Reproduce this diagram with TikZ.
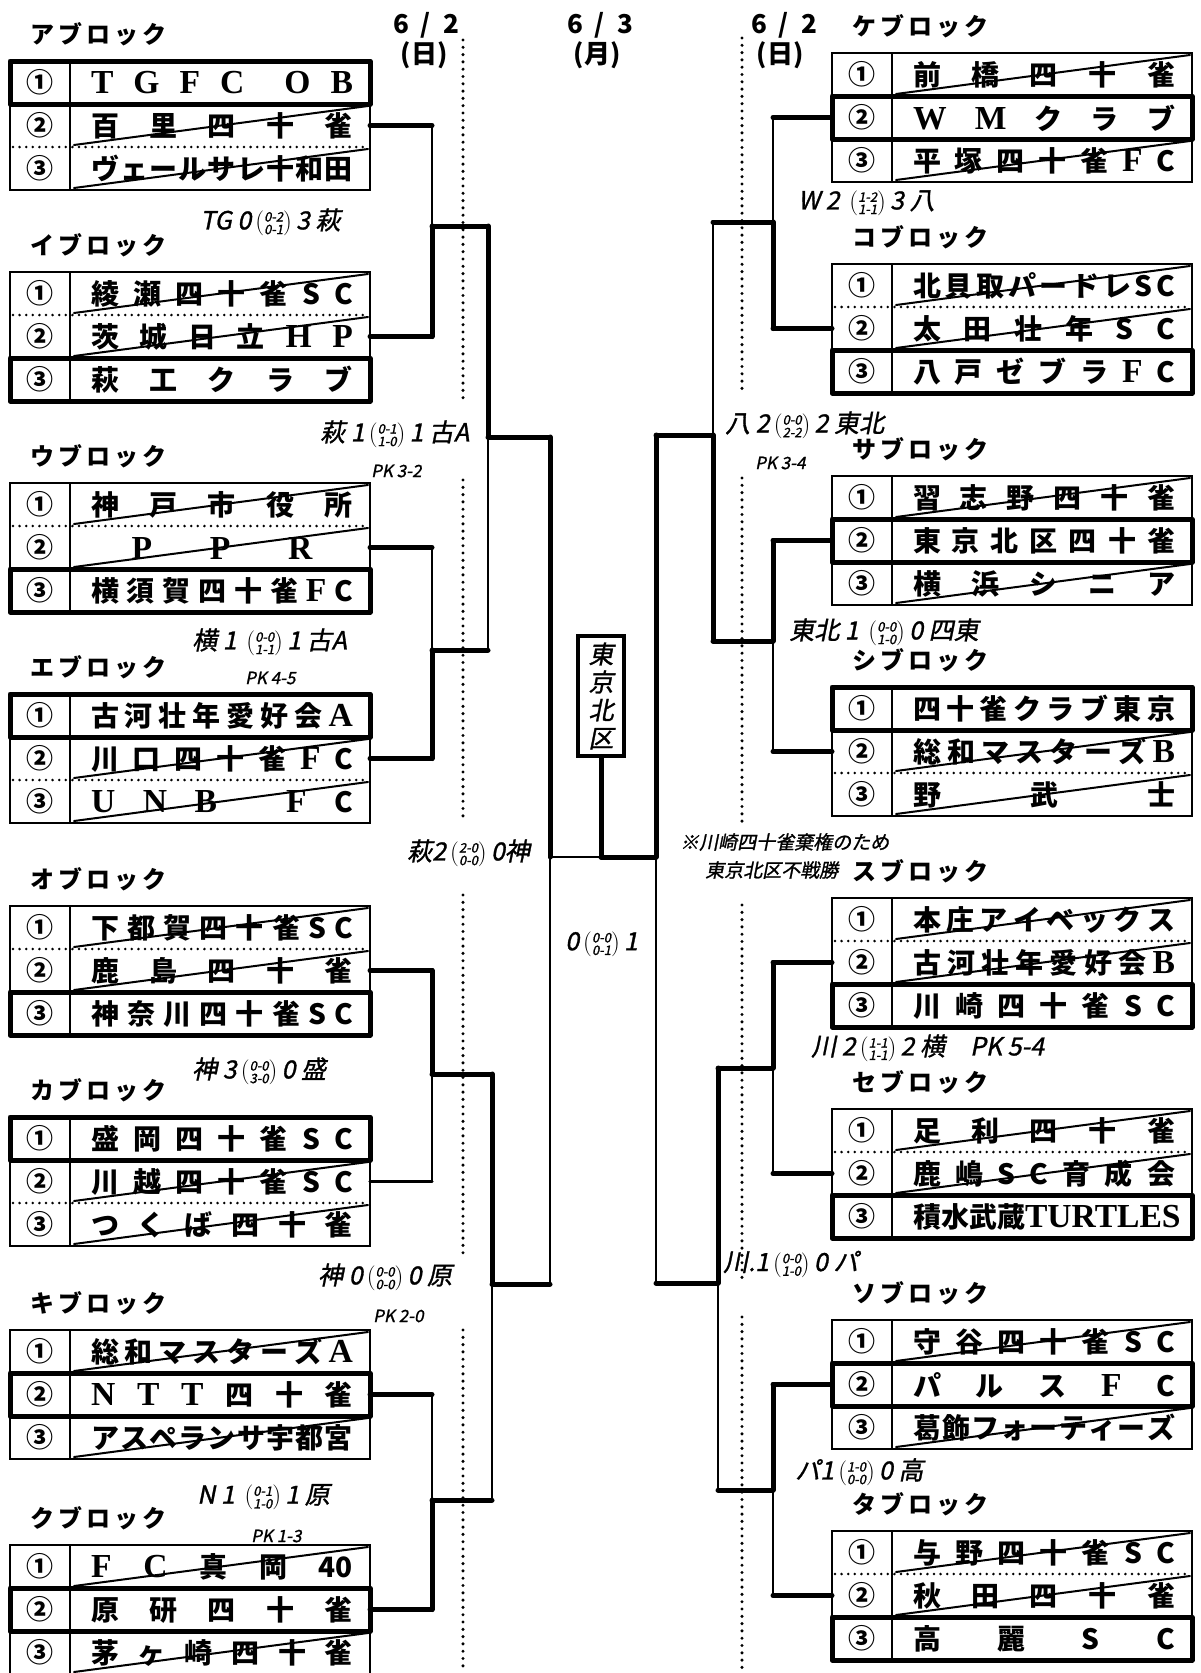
\documentclass[tikz,border=0pt]{standalone}
\usepackage{fontspec}
\setmainfont{Noto Sans CJK JP}
\newfontfamily\jp{Noto Sans CJK JP}
\newfontfamily\se{Liberation Serif}[Scale=1.2]
\newfontfamily\hand{Noto Sans CJK JP}[FakeSlant=0.2,FakeBold=1.2]
\newcommand\spr[2]{\makebox[#1][s]{\spaceskip=0pt plus 1fil\xspaceskip=0pt plus 1fil\relax #2}}
\newcommand\nm[1]{\spr{262pt}{#1}}
\newcommand\ser[1]{{\se\bfseries #1}}
\newcommand\scr[2]{\,\ensuremath{\left(\vcenter{\hbox{\fontsize{13}{13}\selectfont\shortstack{#1\\#2}}}\right)}\,}
% block: x, y, winner, row1, row2, row3, label, id
\newcommand\tblk[8]{%
\begin{scope}[shift={(#1,#2)}]
\draw[bthin] (0,0) rectangle (360,129) (60,0) -- (60,129);
\draw[dotsep] (3,43) -- (358,43) (3,86) -- (358,86);
\ifnum#3=1\relax\else\draw[strike] (64,41) -- (358,2);\fi
\ifnum#3=2\relax\else\draw[strike] (64,84) -- (358,45);\fi
\ifnum#3=3\relax\else\draw[strike] (64,127) -- (358,88);\fi
\draw[bthick] (0,{(#3-1)*43}) rectangle (360,{#3*43});
\node[num] (#8-n1) at (30,21.5) {①};
\node[num] (#8-n2) at (30,64.5) {②};
\node[num] (#8-n3) at (30,107.5) {③};
\node[nmst] (#8-1) at (212,22) {\nm{#4}};
\node[nmst] (#8-2) at (212,65) {\nm{#5}};
\node[nmst] (#8-3) at (212,108) {\nm{#6}};
\node[lab] (#8-lab) at (20,-27) {\spr{136pt}{#7}};
\coordinate (#8-L) at (0,64.5);
\coordinate (#8-R) at (360,64.5);
\end{scope}}
\begin{document}
\begin{tikzpicture}[x=1pt,y=-1pt,
  wl/.style={line width=5pt,line cap=round},
  ll/.style={line width=2.2pt,line cap=round},
  ml/.style={line width=3.4pt,line cap=round},
  bthin/.style={line width=2.2pt},
  bthick/.style={line width=5pt,line join=round},
  dotsep/.style={line width=2.8pt,dash pattern=on 0pt off 6.6pt,line cap=round},
  strike/.style={line width=2pt,line cap=round},
  datedot/.style={line width=3.4pt,dash pattern=on 0pt off 7.3pt,line cap=round},
  num/.style={font=\jp\bfseries\fontsize{27}{27}\selectfont,inner sep=0pt},
  nmst/.style={font=\jp\bfseries\fontsize{28}{28}\selectfont,inner sep=0pt},
  lab/.style={font=\jp\bfseries\fontsize{24}{24}\selectfont,inner sep=0pt,anchor=west},
  datest/.style={font=\jp\bfseries\fontsize{26}{26}\selectfont,inner sep=0pt},
  hw/.style={font=\hand\fontsize{25}{25}\selectfont,inner sep=0pt,anchor=west},
  hws/.style={font=\hand\fontsize{17}{17}\selectfont,inner sep=0pt,anchor=west},
  hwn/.style={font=\hand\fontsize{19}{19}\selectfont,inner sep=0pt,anchor=west}]
\useasboundingbox (0,0) rectangle (1200,1673);
\fill[white] (0,0) rectangle (1200,1673);
\clip (0,0) rectangle (1200,1673);

% dates
\node[datest] (d1) at (426,25) {\spr{66pt}{6 / 2}};
\node[datest] (d1b) at (424,55) {(日)};
\node[datest] (d2) at (600,25) {\spr{66pt}{6 / 3}};
\node[datest] (d2b) at (597,55) {(月)};
\node[datest] (d3) at (784,25) {\spr{66pt}{6 / 2}};
\node[datest] (d3b) at (780,55) {(日)};

% dotted day lines
\draw[datedot] (463,40) -- (463,398);
\draw[datedot] (463,480) -- (463,820);
\draw[datedot] (463,895) -- (463,1257);
\draw[datedot] (463,1330) -- (463,1673);
\draw[datedot] (742,38) -- (742,393);
\draw[datedot] (742,478) -- (742,822);
\draw[datedot] (742,905) -- (742,1280);
\draw[datedot] (742,1317) -- (742,1673);

% left blocks
\tblk{10}{61}{1}{\ser{T G F C \hfil O B}}{百 里 四 十 雀}{ヴ ェ ー ル サ レ 十 和 田}{ア ブ ロ ッ ク}{A}
\tblk{10}{272}{3}{綾 瀬 四 十 雀 S C}{茨 城 日 立 \ser{H P}}{萩 工 ク ラ ブ}{イ ブ ロ ッ ク}{I}
\tblk{10}{483}{3}{神 戸 市 役 所}{\hskip 0pt plus 0.7fil\relax\ser{P P R}\hskip 0pt plus 0.7fil\relax}{横 須 賀 四 十 雀 \ser{F} C}{ウ ブ ロ ッ ク}{U}
\tblk{10}{694}{1}{古 河 壮 年 愛 好 会 \ser{A}}{川 口 四 十 雀 \ser{F} C}{\ser{U N B \hskip 0pt plus 1.5fil\relax F} C}{エ ブ ロ ッ ク}{E}
\tblk{10}{906}{3}{下 都 賀 四 十 雀 S C}{鹿 島 四 十 雀}{神 奈 川 四 十 雀 S C}{オ ブ ロ ッ ク}{O}
\tblk{10}{1117}{1}{盛 岡 四 十 雀 S C}{川 越 四 十 雀 S C}{つ く ば 四 十 雀}{カ ブ ロ ッ ク}{KA}
\tblk{10}{1330}{2}{総 和 マ ス タ ー ズ \ser{A}}{\ser{N T T} 四 十 雀}{ア ス ペ ラ ン サ 宇 都 宮}{キ ブ ロ ッ ク}{KI}
\tblk{10}{1545}{2}{\ser{F C} 真 岡 40}{原 研 四 十 雀}{茅 ヶ 崎 四 十 雀}{ク ブ ロ ッ ク}{KU}

% right blocks
\tblk{832}{53}{2}{前 橋 四 十 雀}{\ser{W M} ク ラ ブ}{平 塚 四 十 雀 \ser{F} C}{ケ ブ ロ ッ ク}{KE}
\tblk{832}{264}{3}{北 貝 取 パ ー ド レ S C}{太 田 壮 年 S C}{八 戸 ゼ ブ ラ \ser{F} C}{コ ブ ロ ッ ク}{KO}
\tblk{832}{476}{2}{習 志 野 四 十 雀}{東 京 北 区 四 十 雀}{横 浜 シ ニ ア}{サ ブ ロ ッ ク}{SA}
\tblk{832}{687}{1}{四 十 雀 ク ラ ブ 東 京}{総 和 マ ス タ ー ズ \ser{B}}{野 武 士}{シ ブ ロ ッ ク}{SI}
\tblk{832}{898}{3}{本 庄 ア イ ベ ッ ク ス}{古 河 壮 年 愛 好 会 \ser{B}}{川 崎 四 十 雀 S C}{ス ブ ロ ッ ク}{SU}
\tblk{832}{1109}{3}{足 利 四 十 雀}{鹿 嶋 S C 育 成 会}{積 水 武 蔵 \ser{TURTLES}}{セ ブ ロ ッ ク}{SE}
\tblk{832}{1320}{2}{守 谷 四 十 雀 S C}{パ ル ス \ser{F} C}{葛 飾 フ ォ ー テ ィ ー ズ}{ソ ブ ロ ッ ク}{SO}
\tblk{832}{1531}{3}{与 野 四 十 雀 S C}{秋 田 四 十 雀}{高 麗 S C}{タ ブ ロ ッ ク}{TA}

% champion box
\node[draw,line width=4pt,minimum width=46pt,minimum height=120pt,inner sep=0pt,
  font=\hand\fontsize{25}{28}\selectfont,align=center] (champ) at (601,696) {東\\京\\北\\区};

% bracket coordinates
\coordinate (a1) at (432,125.5);
\coordinate (i1) at (432,336.5);
\coordinate (J1) at (432,226);
\coordinate (u1) at (432,547.5);
\coordinate (e1) at (432,758.5);
\coordinate (J2) at (432,650);
\coordinate (o1) at (432,970.5);
\coordinate (k1) at (432,1181.5);
\coordinate (J3) at (432,1074);
\coordinate (q1) at (432,1394.5);
\coordinate (r1) at (432,1609.5);
\coordinate (J4) at (432,1500);
\coordinate (P1) at (488,226);
\coordinate (P2) at (488,650);
\coordinate (Q1) at (488,437);
\coordinate (P3) at (492,1074);
\coordinate (P4) at (492,1500);
\coordinate (Q2) at (492,1284);
\coordinate (S1) at (550,437);
\coordinate (S2) at (550,1284);
\coordinate (F1) at (550,857);
\coordinate (FR) at (656,857);
\coordinate (FM) at (champ.south |- F1);
\coordinate (S3) at (656,435);
\coordinate (S4) at (656,1283);
\coordinate (P5) at (713,222);
\coordinate (P6) at (713,641);
\coordinate (Q3) at (713,435);
\coordinate (P7) at (718,1068);
\coordinate (P8) at (718,1490);
\coordinate (Q4) at (718,1283);
\coordinate (ke1) at (773,117.5);
\coordinate (ko1) at (773,328.5);
\coordinate (J5) at (773,222);
\coordinate (sa1) at (773,540.5);
\coordinate (si1) at (773,751.5);
\coordinate (J6) at (773,641);
\coordinate (su1) at (773,962.5);
\coordinate (se1) at (773,1173.5);
\coordinate (J7) at (773,1068);
\coordinate (so1) at (773,1384.5);
\coordinate (ta1) at (773,1595.5);
\coordinate (J8) at (773,1490);

% left round 1
\draw[wl] (A-R) -- (a1); \draw[wl] (I-R) -- (i1);
\draw[ll] (a1) -- (J1); \draw[wl] (J1) -- (i1); \draw[wl] (J1) -- (P1);
\draw[wl] (U-R) -- (u1); \draw[wl] (E-R) -- (e1);
\draw[ll] (u1) -- (J2); \draw[wl] (J2) -- (e1); \draw[wl] (J2) -- (P2);
\draw[wl] (O-R) -- (o1); \draw[ml] (KA-R) -- (k1);
\draw[wl] (o1) -- (J3); \draw[ll] (J3) -- (k1); \draw[wl] (J3) -- (P3);
\draw[wl] (KI-R) -- (q1); \draw[wl] (KU-R) -- (r1);
\draw[ll] (q1) -- (J4); \draw[wl] (J4) -- (r1); \draw[wl] (J4) -- (P4);
% left round 2, 3
\draw[wl] (P1) -- (Q1); \draw[ll] (Q1) -- (P2); \draw[wl] (Q1) -- (S1);
\draw[wl] (P3) -- (Q2); \draw[ll] (Q2) -- (P4); \draw[wl] (Q2) -- (S2);
\draw[wl] (S1) -- (F1); \draw[ll] (F1) -- (S2);
% final
\draw[ll] (F1) -- (FM); \draw[wl] (FM) -- (FR); \draw[wl] (champ.south) -- (FM);
% right round 3, 2
\draw[wl] (S3) -- (FR); \draw[ll] (FR) -- (S4);
\draw[wl] (Q3) -- (S3); \draw[ll] (P5) -- (Q3); \draw[wl] (Q3) -- (P6);
\draw[wl] (Q4) -- (S4); \draw[wl] (P7) -- (Q4); \draw[ll] (Q4) -- (P8);
% right round 1
\draw[wl] (KE-L) -- (ke1); \draw[wl] (KO-L) -- (ko1);
\draw[ll] (ke1) -- (J5); \draw[wl] (J5) -- (ko1); \draw[wl] (J5) -- (P5);
\draw[wl] (SA-L) -- (sa1); \draw[wl] (SI-L) -- (si1);
\draw[wl] (sa1) -- (J6); \draw[ll] (J6) -- (si1); \draw[wl] (J6) -- (P6);
\draw[wl] (SU-L) -- (su1); \draw[wl] (SE-L) -- (se1);
\draw[wl] (su1) -- (J7); \draw[ll] (J7) -- (se1); \draw[wl] (J7) -- (P7);
\draw[wl] (SO-L) -- (so1); \draw[wl] (TA-L) -- (ta1);
\draw[wl] (so1) -- (J8); \draw[ll] (J8) -- (ta1); \draw[wl] (J8) -- (P8);

% handwritten results
\node[hw] (h1) at (200,222) {TG 0\scr{0-2}{0-1}3 萩};
\node[hw] (h2) at (320,434) {萩 1\scr{0-1}{1-0}1 古A};
\node[hws] (h2p) at (371,471) {PK 3-2};
\node[hw] (h3) at (192,642) {横 1 \scr{0-0}{1-1}1 古A};
\node[hws] (h3p) at (245,678) {PK 4-5};
\node[hw] (h4) at (407,853) {萩2\scr{2-0}{0-0}0神};
\node[hw] (h5) at (565,944) {0\scr{0-0}{0-1}1};
\node[hw] (h6) at (192,1071) {神 3\scr{0-0}{3-0}0 盛};
\node[hw] (h7) at (318,1277) {神 0\scr{0-0}{0-0}0 原};
\node[hws] (h7p) at (373,1316) {PK 2-0};
\node[hw] (h8) at (197,1497) {N 1 \scr{0-1}{1-0}1 原};
\node[hws] (h8p) at (251,1536) {PK 1-3};
\node[hw] (h9) at (798,203) {W 2 \scr{1-2}{1-1}3 八};
\node[hw] (h10) at (725,425) {八 2\scr{0-0}{2-2}2 東北};
\node[hws] (h10p) at (755,463) {PK 3-4};
\node[hw] (h11) at (789,632) {東北 1 \scr{0-0}{1-0}0 四東};
\node[hwn] (h12) at (680,842) {※川崎四十雀棄権のため};
\node[hwn] (h12b) at (705,870) {東京北区不戦勝};
\node[hw] (h13) at (811,1048) {川 2\scr{1-1}{1-1}2 横\quad PK 5-4};
\node[hw] (h14) at (723,1264) {川.1\scr{0-0}{1-0}0 パ};
\node[hw] (h15) at (795,1472) {パ1\scr{1-0}{0-0}0 高};
\end{tikzpicture}
\end{document}
